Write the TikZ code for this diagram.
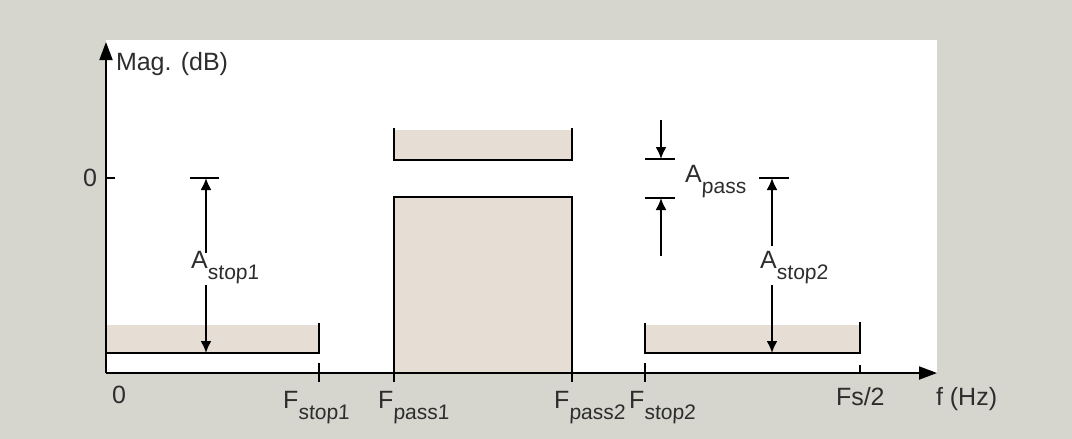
\documentclass[tikz,border=0pt]{standalone}
\usepackage{fontspec}
\setmainfont{Liberation Sans}
\newfontfamily\subfont[FakeSlant=0.05]{Liberation Sans}
\usetikzlibrary{arrows.meta}
\definecolor{panelgray}{RGB}{214,214,207}
\definecolor{bandfill}{RGB}{230,222,213}
\definecolor{labelgray}{RGB}{45,45,45}
\begin{document}
\begin{tikzpicture}[x=0.5pt, y=-0.5pt, line width=1pt,
    lbl/.style={inner sep=0pt, text=labelgray, font=\fontsize{12.5}{14}\selectfont},
    dimarrow/.style={-{Latex[length=6pt,width=5.5pt]}},
    axisarrow/.style={-{Triangle[length=9pt,width=6.5pt]}}]
    \def\lowtext#1{\raisebox{-5.5pt}{\fontsize{10.5}{11}\subfont #1}}

    \useasboundingbox (0, 0) rectangle (1072, 439);
    \fill [panelgray] (0, 0) rectangle (1072, 439);
    \fill [white] (106, 40) rectangle (937, 373);

    % bands
    \fill [bandfill] (106, 325) rectangle (319, 353);
    \fill [bandfill] (645, 325) rectangle (860, 353);
    \fill [bandfill] (394, 130) rectangle (572, 160);
    \draw [fill=bandfill] (394, 197) rectangle (572, 373);
    \draw (106, 353) -- (319, 353) -- (319, 323);
    \draw (645, 323) -- (645, 353) -- (860, 353) -- (860, 322);
    \draw (394, 128) -- (394, 160) -- (572, 160) -- (572, 128);

    % axes
    \coordinate (O) at (106, 373);
    \coordinate (ytop) at (106, 42);
    \coordinate (xend) at (937, 373);
    \draw [axisarrow] (O) -- (ytop);
    \draw [axisarrow] (O) -- (xend);

    % ticks
    \draw (106, 178) -- (115, 178);
    \draw (319, 363) -- (319, 382);
    \draw (394, 373) -- (394, 382);
    \draw (572, 373) -- (572, 382);
    \draw (645, 363) -- (645, 382);
    \draw (860, 365) -- (860, 373);

    % labels
    \node [lbl, anchor=west] (mag) at (115, 64) {Mag. (dB)};
    \node [lbl] (yzero) at (90, 178) {0};
    \node [lbl] (xzero) at (119, 395) {0};
    \node [lbl, anchor=base west] (fstop1) at (282, 408) {F\lowtext{stop1}};
    \node [lbl, anchor=base west] (fpass1) at (377, 408) {F\lowtext{pass1}};
    \node [lbl, anchor=base west] (fpass2) at (553, 408) {F\lowtext{pass2}};
    \node [lbl, anchor=base west] (fstop2) at (628, 408) {F\lowtext{stop2}};
    \node [lbl, anchor=base west] (fshalf) at (835, 405) {Fs/2};
    \node [lbl, anchor=base west] (fhz) at (935, 405) {f (Hz)};
    \node [lbl, anchor=base west] (astop1) at (190, 268) {A\lowtext{stop1}};
    \node [lbl, anchor=base west] (astop2) at (759, 268) {A\lowtext{stop2}};
    \node [lbl, anchor=base west] (apass) at (684, 182) {A\lowtext{pass}};

    % stopband 1 attenuation
    \coordinate (s1top) at (206, 178);
    \coordinate (s1bot) at (206, 353);
    \draw (190, 178) -- (219, 178);
    \draw [dimarrow] (206, 253) -- (s1top);
    \draw [dimarrow] (206, 285) -- (s1bot);

    % stopband 2 attenuation
    \coordinate (s2top) at (772, 178);
    \coordinate (s2bot) at (772, 353);
    \draw (759, 178) -- (789, 178);
    \draw [dimarrow] (772, 246) -- (s2top);
    \draw [dimarrow] (772, 285) -- (s2bot);

    % passband ripple
    \coordinate (ptop) at (661, 159);
    \coordinate (pbot) at (661, 198);
    \draw (645, 159) -- (675, 159);
    \draw (645, 198) -- (675, 198);
    \draw [dimarrow] (661, 120) -- (ptop);
    \draw [dimarrow] (661, 256) -- (pbot);
\end{tikzpicture}
\end{document}
